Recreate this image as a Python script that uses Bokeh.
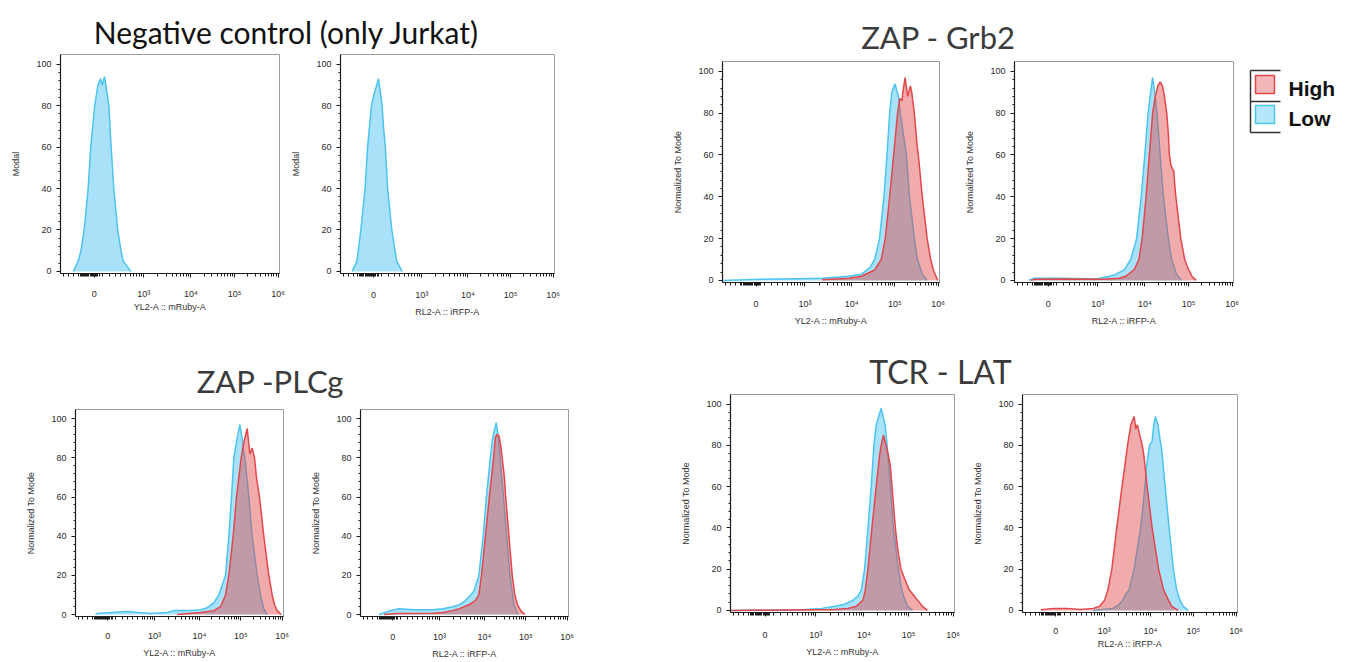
import math
from bokeh.plotting import figure
from bokeh.layouts import row, column
from bokeh.models import FixedTicker, CustomJSTickFormatter, Range1d, Spacer
from bokeh.core.properties import value
from bokeh.embed import file_html
from bokeh.resources import INLINE

# ---------------- data ----------------
# x values are positions on the biexponential display axis (display units)
X_TICK_POS = [1.89, 3.0, 4.06, 5.04, 6.02]
X_TICK_LABELS = ["0", "10³", "10⁴", "10⁵", "10⁶"]
X_LOW_MINOR = [1.196, 1.307, 1.418, 1.529, 2.083, 2.238, 2.371, 2.482, 2.593, 2.703, 2.770, 2.836, 2.903, 2.947]
X_ZERO_CLUSTER = [1.57 + 0.025 * i for i in range(18)]
Y_TICKS = [0, 20, 40, 60, 80, 100]
Y_MINOR = [v for v in range(0, 101, 4) if v % 20]

SERIES = ["High", "Low"]

GROUP_TITLES = ["Negative control  (only Jurkat)", "ZAP - Grb2", "ZAP -PLCg", "TCR - LAT"]
X_LABELS = ["YL2-A :: mRuby-A", "RL2-A :: iRFP-A"]
Y_LABELS = ["Modal", "Normalized To Mode"]

# Negative control (only Jurkat)
neg_yl2_low_x = [1.418, 1.529, 1.588, 1.662, 1.751, 1.810, 1.898, 1.972, 2.031, 2.068, 2.120, 2.216, 2.268, 2.327, 2.415, 2.489, 2.541, 2.711]
neg_yl2_low_y = [0, 5, 10, 20, 40, 60, 80, 90, 93, 90, 94, 80, 60, 40, 20, 10, 5, 0]
neg_rl2_low_x = [1.397, 1.508, 1.598, 1.694, 1.753, 1.842, 1.894, 2.006, 2.087, 2.117, 2.161, 2.213, 2.310, 2.421, 2.547]
neg_rl2_low_y = [0, 5, 20, 40, 60, 80, 85, 93, 80, 70, 60, 40, 20, 5, 0]

# ZAP - Grb2
grb2_yl2_low_x = [1.15, 2.0, 2.8, 3.39, 3.99, 4.28, 4.47, 4.58, 4.69, 4.79, 4.86, 4.92, 4.97, 5.04, 5.12, 5.16, 5.30, 5.37, 5.48, 5.55, 5.66, 5.77]
grb2_yl2_low_y = [0, 0.5, 0.8, 1, 2, 3, 6, 10, 20, 40, 60, 80, 90, 94, 88, 80, 60, 40, 20, 10, 3, 0]
grb2_yl2_high_x = [3.39, 4.0, 4.28, 4.58, 4.73, 4.82, 4.92, 5.01, 5.10, 5.15, 5.20, 5.22, 5.27, 5.33, 5.39, 5.42, 5.48, 5.54, 5.57, 5.66, 5.77, 5.85, 5.91, 6.01]
grb2_yl2_high_y = [0.3, 1, 2, 5, 10, 20, 40, 60, 80, 87, 86, 90, 97, 88, 93, 90, 80, 65, 60, 40, 20, 10, 5, 0]
grb2_rl2_low_x = [1.45, 1.571, 2.233, 2.969, 3.263, 3.410, 3.594, 3.741, 3.873, 3.976, 4.057, 4.131, 4.189, 4.233, 4.292, 4.329, 4.403, 4.476, 4.587, 4.660, 4.770, 4.881]
grb2_rl2_low_y = [0, 1, 1, 0.7, 2, 3, 5, 10, 20, 40, 60, 80, 90, 97, 88, 80, 60, 40, 20, 10, 3, 0]
grb2_rl2_high_x = [1.5, 1.571, 2.233, 3.116, 3.483, 3.630, 3.814, 3.925, 3.998, 4.086, 4.160, 4.233, 4.292, 4.351, 4.403, 4.454, 4.498, 4.550, 4.587, 4.609, 4.645, 4.711, 4.733, 4.755, 4.866, 4.954, 5.043, 5.116, 5.212]
grb2_rl2_high_y = [0, 0.5, 0.7, 0.5, 1, 2, 5, 10, 20, 40, 60, 80, 88, 93, 95, 93, 88, 80, 70, 60, 55, 52, 45, 40, 20, 10, 5, 2, 0]

# ZAP -PLCg
plcg_yl2_low_x = [1.60, 1.643, 2.0, 2.352, 2.904, 3.298, 3.456, 3.771, 4.087, 4.244, 4.402, 4.520, 4.599, 4.678, 4.757, 4.820, 4.875, 4.954, 5.017, 5.072, 5.096, 5.135, 5.230, 5.309, 5.427, 5.506, 5.584, 5.664]
plcg_yl2_low_y = [0, 0.5, 1, 1.5, 0.5, 1, 2, 2, 2.5, 3.5, 6, 10, 15, 20, 40, 60, 80, 90, 97, 90, 85, 80, 60, 40, 20, 10, 3, 0]
plcg_yl2_high_x = [3.535, 4.087, 4.402, 4.560, 4.678, 4.757, 4.859, 4.938, 5.049, 5.112, 5.191, 5.254, 5.309, 5.364, 5.411, 5.467, 5.482, 5.584, 5.703, 5.782, 5.837, 5.900, 5.995]
plcg_yl2_high_y = [0, 1, 2, 4, 10, 20, 40, 60, 80, 88, 95, 82, 85, 80, 70, 62, 60, 40, 20, 10, 5, 2, 0]
plcg_rl2_low_x = [1.571, 1.842, 2.035, 2.4, 2.847, 3.079, 3.312, 3.466, 3.606, 3.737, 3.814, 3.930, 4.031, 4.108, 4.201, 4.255, 4.340, 4.395, 4.433, 4.511, 4.588, 4.665, 4.758, 4.859]
plcg_rl2_low_y = [0, 2, 3, 2.5, 2.5, 3, 4, 5, 7, 10, 12, 20, 40, 60, 80, 90, 98, 90, 80, 60, 40, 20, 5, 0]
plcg_rl2_high_x = [1.687, 1.996, 2.847, 3.079, 3.312, 3.466, 3.698, 3.838, 3.930, 3.992, 4.085, 4.178, 4.279, 4.317, 4.356, 4.410, 4.456, 4.534, 4.565, 4.642, 4.719, 4.781, 4.843, 4.920, 5.013]
plcg_rl2_high_y = [0, 0.5, 0.7, 1, 2, 3, 5, 7, 10, 20, 40, 60, 80, 90, 92, 91, 85, 70, 60, 40, 20, 10, 5, 2, 0]

# TCR - LAT
lat_yl2_low_x = [1.15, 2.697, 3.133, 3.423, 3.641, 3.822, 3.931, 4.004, 4.076, 4.149, 4.221, 4.279, 4.330, 4.439, 4.526, 4.548, 4.570, 4.642, 4.707, 4.816, 4.889, 4.962, 5.020, 5.128]
lat_yl2_low_y = [0, 0.3, 1, 2, 3, 5, 7, 10, 20, 40, 60, 80, 90, 98, 90, 85, 80, 60, 40, 20, 10, 5, 2, 0]
lat_yl2_high_x = [1.15, 3.423, 3.713, 3.895, 4.040, 4.091, 4.149, 4.236, 4.330, 4.403, 4.439, 4.490, 4.548, 4.599, 4.642, 4.678, 4.751, 4.802, 4.874, 4.962, 5.056, 5.165, 5.237, 5.346, 5.455]
lat_yl2_high_y = [0, 0.5, 1, 2, 5, 10, 20, 40, 60, 75, 80, 85, 80, 75, 70, 60, 40, 30, 20, 15, 10, 7, 5, 2, 0]
lat_rl2_low_x = [2.748, 3.197, 3.347, 3.422, 3.496, 3.571, 3.684, 3.759, 3.833, 3.886, 3.931, 3.968, 4.036, 4.096, 4.133, 4.170, 4.230, 4.283, 4.305, 4.395, 4.485, 4.582, 4.657, 4.732, 4.807, 4.919]
lat_rl2_low_y = [0, 1, 3, 5, 8, 10, 20, 30, 40, 50, 60, 70, 80, 82, 90, 94, 90, 82, 80, 60, 40, 20, 10, 5, 2, 0]
lat_rl2_high_x = [1.549, 1.849, 2.148, 2.448, 2.748, 2.897, 3.010, 3.085, 3.174, 3.287, 3.407, 3.534, 3.609, 3.684, 3.721, 3.759, 3.811, 3.871, 3.908, 3.983, 4.096, 4.245, 4.358, 4.470, 4.545, 4.695]
lat_rl2_high_y = [0.3, 1, 1, 0.5, 1, 2, 5, 10, 20, 40, 60, 80, 90, 94, 88, 90, 85, 80, 75, 60, 40, 20, 10, 5, 2, 0]

# ---------------- style ----------------
X_RANGE = (1.13, 6.05)
Y_RANGE = (-1.0, 104.7)
LOW_LINE, LOW_FILL = "#4cc4f0", "#2fb8ee"
HIGH_LINE, HIGH_FILL = "#e2474c", "#e04444"
FILL_ALPHA = {"Low": 0.42, "High": 0.45}
COLORS = {"Low": (LOW_LINE, LOW_FILL), "High": (HIGH_LINE, HIGH_FILL)}
AX_FONT = "Liberation Sans"
TITLE_FONT = "Lato"


def minor_x():
    m = list(X_LOW_MINOR) + list(X_ZERO_CLUSTER)
    for i in range(1, len(X_TICK_POS) - 1):
        a, b = X_TICK_POS[i], X_TICK_POS[i + 1]
        m += [a + math.log10(k) * (b - a) for k in range(2, 10)]
    return m


def panel(lay, xlabel, ylabel, curves):
    w, h, bl, br, bt, bb, xs, xls = lay
    p = figure(width=w, height=h, x_range=Range1d(*X_RANGE), y_range=Range1d(*Y_RANGE),
               output_backend="svg", toolbar_location=None,
               min_border_left=bl, min_border_right=br, min_border_top=bt, min_border_bottom=bb)
    p.grid.visible = False
    p.outline_line_color = "#9c9c9c"
    p.outline_line_width = 1
    p.background_fill_color = "white"
    p.border_fill_color = "white"
    for name in ["Low", "High"]:
        if name not in curves:
            continue
        xs_, ys_ = curves[name]
        lc, fc = COLORS[name]
        p.varea(x=xs_, y1=[0] * len(xs_), y2=ys_, fill_color=fc, fill_alpha=FILL_ALPHA[name])
        p.line(x=xs_, y=ys_, line_color=lc, line_width=1.5)
    xa = p.xaxis[0]
    ya = p.yaxis[0]
    xa.ticker = FixedTicker(ticks=X_TICK_POS, minor_ticks=minor_x())
    xa.formatter = CustomJSTickFormatter(args=dict(pos=X_TICK_POS, lab=X_TICK_LABELS), code="""
        let best = 0, bd = 1e9;
        for (let i = 0; i < pos.length; i++) { const d = Math.abs(pos[i] - tick); if (d < bd) { bd = d; best = i; } }
        return lab[best];
    """)
    ya.ticker = FixedTicker(ticks=Y_TICKS, minor_ticks=Y_MINOR)
    for ax in (xa, ya):
        ax.axis_line_color = "#1a1a1a"
        ax.axis_line_width = 1.2
        ax.major_tick_line_color = "#1a1a1a"
        ax.minor_tick_line_color = "#1a1a1a"
        ax.major_tick_in = 0
        ax.major_tick_out = 4
        ax.minor_tick_in = 0
        ax.major_label_text_font = AX_FONT
        ax.major_label_text_font_size = "9px"
        ax.major_label_text_color = "#2a2a2a"
        ax.axis_label_text_font = AX_FONT
        ax.axis_label_text_font_size = "9px"
        ax.axis_label_text_font_style = "normal"
        ax.axis_label_text_color = "#333333"
    xa.minor_tick_out = 3
    ya.minor_tick_out = 2
    xa.major_label_standoff = xs
    xa.axis_label_standoff = xls
    ya.major_label_standoff = 5
    ya.axis_label_standoff = 12
    xa.axis_label = xlabel
    ya.axis_label = ylabel
    return p


def title_fig(w, h, text, cx, cy, size, color):
    p = figure(width=w, height=h, x_range=Range1d(0, w), y_range=Range1d(h, 0),
               output_backend="svg", toolbar_location=None, min_border=0,
               x_axis_location=None, y_axis_location=None)
    p.grid.visible = False
    p.outline_line_color = None
    p.text(x=[cx], y=[cy], text=[text], text_font=value(TITLE_FONT), text_font_size=size,
           text_align="center", text_baseline="middle", text_color=color)
    return p


# layout: width, height, border l, r, t, b, x label standoff, x axis label standoff
L1 = (280, 296, 49, 9, 1, 72, 11, 0)
L2 = (382, 296, 45, 116, 2, 75, 12, 4)
L3 = (292, 290, 49, 23, 3, 66, 12, 4)
L4 = (281, 290, 48, 10, 3, 65, 12, 4)
L5 = (300, 260, 67, 25, 7, 46, 10, 4)
L6 = (370, 260, 48, 110, 7, 41, 11, 4)
L7 = (292, 272, 50, 16, 2, 45, 13, 4)
L8 = (375, 272, 48, 108, 4, 50, 9, 0)

p1 = panel(L1, X_LABELS[0], Y_LABELS[0], {"Low": (neg_yl2_low_x, neg_yl2_low_y)})
p2 = panel(L2, X_LABELS[1], Y_LABELS[0], {"Low": (neg_rl2_low_x, neg_rl2_low_y)})
p3 = panel(L3, X_LABELS[0], Y_LABELS[1], {"Low": (grb2_yl2_low_x, grb2_yl2_low_y), "High": (grb2_yl2_high_x, grb2_yl2_high_y)})
p4 = panel(L4, X_LABELS[1], Y_LABELS[1], {"Low": (grb2_rl2_low_x, grb2_rl2_low_y), "High": (grb2_rl2_high_x, grb2_rl2_high_y)})
p5 = panel(L5, X_LABELS[0], Y_LABELS[1], {"Low": (plcg_yl2_low_x, plcg_yl2_low_y), "High": (plcg_yl2_high_x, plcg_yl2_high_y)})
p6 = panel(L6, X_LABELS[1], Y_LABELS[1], {"Low": (plcg_rl2_low_x, plcg_rl2_low_y), "High": (plcg_rl2_high_x, plcg_rl2_high_y)})
p7 = panel(L7, X_LABELS[0], Y_LABELS[1], {"Low": (lat_yl2_low_x, lat_yl2_low_y), "High": (lat_yl2_high_x, lat_yl2_high_y)})
p8 = panel(L8, X_LABELS[1], Y_LABELS[1], {"Low": (lat_rl2_low_x, lat_rl2_low_y), "High": (lat_rl2_high_x, lat_rl2_high_y)})

t1 = title_fig(662, 44, GROUP_TITLES[0], 282, 23, "30px", "#111111")
t2 = title_fig(573, 50, GROUP_TITLES[1], 268, 28, "31px", "#3b3b3b")
t3 = title_fig(670, 54, GROUP_TITLES[2], 262, 32, "31px", "#3b3b3b")
t4 = title_fig(667, 42, GROUP_TITLES[3], 262, 23, "32px", "#3b3b3b")

# legend
lg = figure(width=102, height=340, x_range=Range1d(0, 102), y_range=Range1d(340, 0),
            output_backend="svg", toolbar_location=None, min_border=0,
            x_axis_location=None, y_axis_location=None)
lg.grid.visible = False
lg.outline_line_color = None
lg.segment(x0=[7, 7, 7, 7], y0=[62, 62, 93, 124], x1=[7, 37, 37, 37], y1=[124, 62, 93, 124],
           line_color="#333333", line_width=1.5)
for i, name in enumerate(SERIES):
    lc, fc = COLORS[name]
    yc = 76 + 30 * i
    lg.rect(x=[21.5], y=[yc], width=19, height=18, fill_color=fc, fill_alpha=FILL_ALPHA[name] * 0.85,
            line_color=lc, line_width=1.5)
    lg.text(x=[45], y=[yc + 3.5], text=[name], text_font=value(AX_FONT), text_font_size="21px",
            text_font_style="bold", text_baseline="middle", text_align="left", text_color="#111111")

top = row(column(t1, row(p1, p2)), column(t2, row(p3, p4)), lg)
bottom = row(column(t3, row(p5, p6)), column(t4, row(p7, p8)))
root = row(Spacer(width=8), column(Spacer(height=8), top, bottom))

open("out.html", "w").write(file_html(root, INLINE))
